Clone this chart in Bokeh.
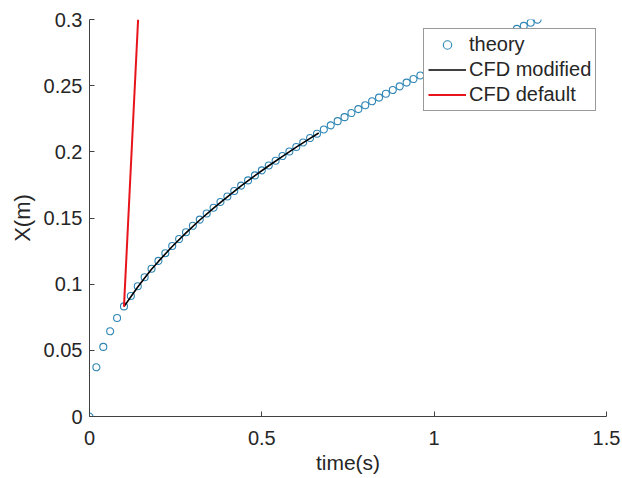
from bokeh.plotting import figure
from bokeh.models import Range1d, FixedTicker, Legend, LegendItem
from bokeh.embed import file_html
from bokeh.resources import INLINE

# theory: X(t), t step 0.02 s
theory_t = [0.00, 0.02, 0.04, 0.06, 0.08, 0.10, 0.12, 0.14, 0.16, 0.18,
            0.20, 0.22, 0.24, 0.26, 0.28, 0.30, 0.32, 0.34, 0.36, 0.38,
            0.40, 0.42, 0.44, 0.46, 0.48, 0.50, 0.52, 0.54, 0.56, 0.58,
            0.60, 0.62, 0.64, 0.66, 0.68, 0.70, 0.72, 0.74, 0.76, 0.78,
            0.80, 0.82, 0.84, 0.86, 0.88, 0.90, 0.92, 0.94, 0.96, 0.98,
            1.00, 1.02, 1.04, 1.06, 1.08, 1.10, 1.12, 1.14, 1.16, 1.18,
            1.20, 1.22, 1.24, 1.26, 1.28, 1.30]
theory_x = [0.0000, 0.0372, 0.0526, 0.0644, 0.0744, 0.0832, 0.0911, 0.0984, 0.1052, 0.1116,
            0.1176, 0.1234, 0.1288, 0.1341, 0.1392, 0.1441, 0.1488, 0.1534, 0.1578, 0.1621,
            0.1663, 0.1704, 0.1745, 0.1784, 0.1822, 0.1860, 0.1897, 0.1933, 0.1968, 0.2003,
            0.2037, 0.2071, 0.2104, 0.2137, 0.2169, 0.2200, 0.2232, 0.2262, 0.2293, 0.2323,
            0.2352, 0.2382, 0.2410, 0.2439, 0.2467, 0.2495, 0.2523, 0.2550, 0.2577, 0.2604,
            0.2630, 0.2656, 0.2682, 0.2708, 0.2733, 0.2758, 0.2783, 0.2808, 0.2833, 0.2857,
            0.2881, 0.2905, 0.2929, 0.2952, 0.2976, 0.2999]

# CFD modified
mod_t = [0.10, 0.12, 0.14, 0.16, 0.18, 0.20, 0.24, 0.28, 0.32, 0.36,
         0.40, 0.44, 0.48, 0.52, 0.56, 0.60, 0.64, 0.665]
mod_x = [0.0830, 0.0905, 0.0978, 0.1047, 0.1112, 0.1172, 0.1285, 0.1388, 0.1485, 0.1575,
         0.1660, 0.1742, 0.1820, 0.1895, 0.1966, 0.2035, 0.2102, 0.2142]

# CFD default
def_t = [0.100, 0.141]
def_x = [0.0830, 0.3000]

x_ticks = [0, 0.5, 1, 1.5]
x_tick_labels = ["0", "0.5", "1", "1.5"]
y_ticks = [0, 0.05, 0.1, 0.15, 0.2, 0.25, 0.3]
y_tick_labels = ["0", "0.05", "0.1", "0.15", "0.2", "0.25", "0.3"]

TXT = "#262626"
AX = "#404040"
FONT = "Liberation Sans"

p = figure(width=622, height=478, output_backend="svg", toolbar_location=None,
           x_range=Range1d(0, 1.5), y_range=Range1d(0, 0.3),
           min_border_left=89, min_border_right=16, min_border_top=19, min_border_bottom=62)
p.outline_line_color = None
p.grid.visible = False
p.background_fill_color = "white"
p.border_fill_color = "white"

r_theory = p.scatter(theory_t, theory_x, marker="circle", size=7, fill_color=None,
                     line_color="#2f86b5", line_width=1.1)
r_mod = p.line(mod_t, mod_x, line_color="black", line_width=1.6)
r_def = p.line(def_t, def_x, line_color="#e8141c", line_width=2)

p.xaxis.ticker = FixedTicker(ticks=x_ticks)
p.yaxis.ticker = FixedTicker(ticks=y_ticks)
p.xaxis.major_label_overrides = {t: l for t, l in zip(x_ticks, x_tick_labels)}
p.yaxis.major_label_overrides = {t: l for t, l in zip(y_ticks, y_tick_labels)}

for ax in (p.xaxis[0], p.yaxis[0]):
    ax.axis_line_color = AX
    ax.axis_line_width = 1
    ax.major_tick_line_color = AX
    ax.major_tick_in = 5
    ax.major_tick_out = 0
    ax.minor_tick_line_color = None
    ax.major_label_text_font = FONT
    ax.major_label_text_font_size = "20px"
    ax.major_label_text_color = TXT
    ax.axis_label_text_font = FONT
    ax.axis_label_text_font_style = "normal"
    ax.axis_label_text_color = TXT

p.xaxis.axis_label = "time(s)"
p.yaxis.axis_label = "X(m)"
p.xaxis.axis_label_text_font_size = "21px"
p.yaxis.axis_label_text_font_size = "22px"
p.xaxis.major_label_standoff = 14
p.xaxis.axis_label_standoff = 3
p.yaxis.major_label_standoff = 7
p.yaxis.axis_label_standoff = 6

legend = Legend(items=[LegendItem(label="theory", renderers=[r_theory]),
                       LegendItem(label="CFD modified", renderers=[r_mod]),
                       LegendItem(label="CFD default", renderers=[r_def])],
                location=(334, 305))
legend.label_text_font = FONT
legend.label_text_font_size = "20px"
legend.label_text_color = TXT
legend.border_line_color = "#333333"
legend.border_line_width = 1
legend.background_fill_alpha = 1
legend.padding = 4
legend.spacing = 2
legend.margin = 0
legend.glyph_width = 38
legend.glyph_height = 21
legend.label_height = 21
legend.label_standoff = 3
p.add_layout(legend, "center")

open("out.html", "w").write(file_html(p, INLINE))
